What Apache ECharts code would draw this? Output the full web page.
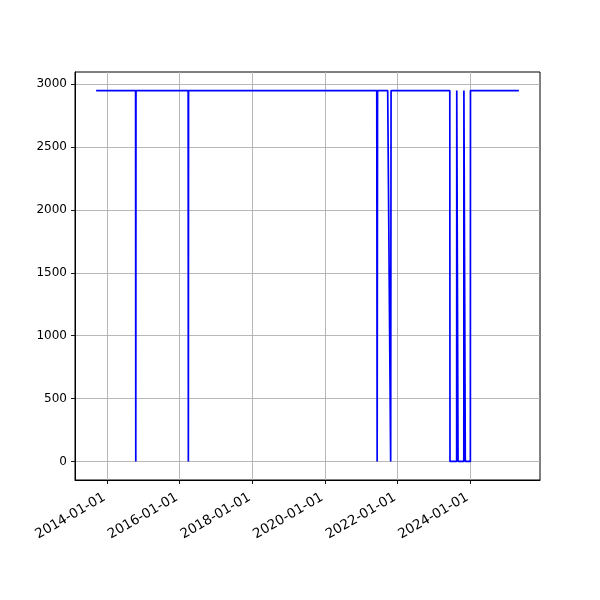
<!DOCTYPE html>
<html><head><meta charset="utf-8">
<script src="https://cdn.jsdelivr.net/npm/echarts@6/dist/echarts.min.js"></script>
<style>html,body{margin:0;padding:0;background:#fff}#c{width:600px;height:600px}</style>
</head><body><div id="c"></div>
<script>
const dates = ['2013-09-13','2014-10-15','2014-10-17','2014-10-19','2016-03-27','2016-03-29','2016-03-31',
  '2021-06-07','2021-06-11','2021-06-15','2021-09-25','2021-10-25','2021-10-29',
  '2023-06-12','2023-06-14','2023-08-20','2023-08-21','2023-09-02','2023-09-03','2023-10-31','2023-11-01',
  '2023-11-14','2023-11-15','2024-01-05','2024-01-06','2025-05-07'];
const values = [2950,2950,0,2950,2950,0,2950,
  2950,0,2950,2950,0,2950,
  2950,0,0,2950,2950,0,0,2950,
  2950,0,0,2950,2950];
const xTickDates = ['2014-01-01','2016-01-01','2018-01-01','2020-01-01','2022-01-01','2024-01-01'];
const yTicks = [0,500,1000,1500,2000,2500,3000];

const ts = d => Date.parse(d + 'T00:00:00Z');
const xs = dates.map(ts);
const xmin0 = Math.min(...xs), xmax0 = Math.max(...xs);
const xpad = (xmax0 - xmin0) * 0.05;
const ymin0 = Math.min(...values), ymax0 = Math.max(...values);
const ypad = (ymax0 - ymin0) * 0.05;
const font = 'DejaVu Sans';
const chart = echarts.init(document.getElementById('c'), null, {renderer:'canvas'});
chart.setOption({
  animation:false,
  grid:{left:75,right:60,top:72,bottom:120,show:true,borderColor:'#000',borderWidth:1,backgroundColor:'transparent'},
  xAxis:{type:'value',min:xmin0-xpad,max:xmax0+xpad,
    axisLine:{show:true,onZero:false,lineStyle:{color:'#000',width:1}},
    axisTick:{show:true,length:4,lineStyle:{color:'#000',width:0.9},customValues:xTickDates.map(ts)},
    axisLabel:{rotate:30,margin:15,padding:[0,3,0,0],fontFamily:font,fontSize:13.5,color:'#000',customValues:xTickDates.map(ts),
      formatter:v=>new Date(v).toISOString().slice(0,10)},
    splitLine:{show:true,lineStyle:{color:'#b0b0b0',width:0.9}}},
  yAxis:{type:'value',min:ymin0-ypad,max:ymax0+ypad,
    axisLine:{show:true,onZero:false,lineStyle:{color:'#000',width:1}},
    axisTick:{show:true,length:4,lineStyle:{color:'#000',width:0.9},customValues:yTicks},
    axisLabel:{margin:8,fontFamily:font,fontSize:12,color:'#000',customValues:yTicks,formatter:v=>String(v)},
    splitLine:{show:true,lineStyle:{color:'#b0b0b0',width:0.9}}},
  series:[{type:'line',data:xs.map((x,i)=>[x,values[i]]),showSymbol:false,
    lineStyle:{color:'#0000ff',width:1.7},itemStyle:{color:'#0000ff'}}]
});
</script></body></html>
